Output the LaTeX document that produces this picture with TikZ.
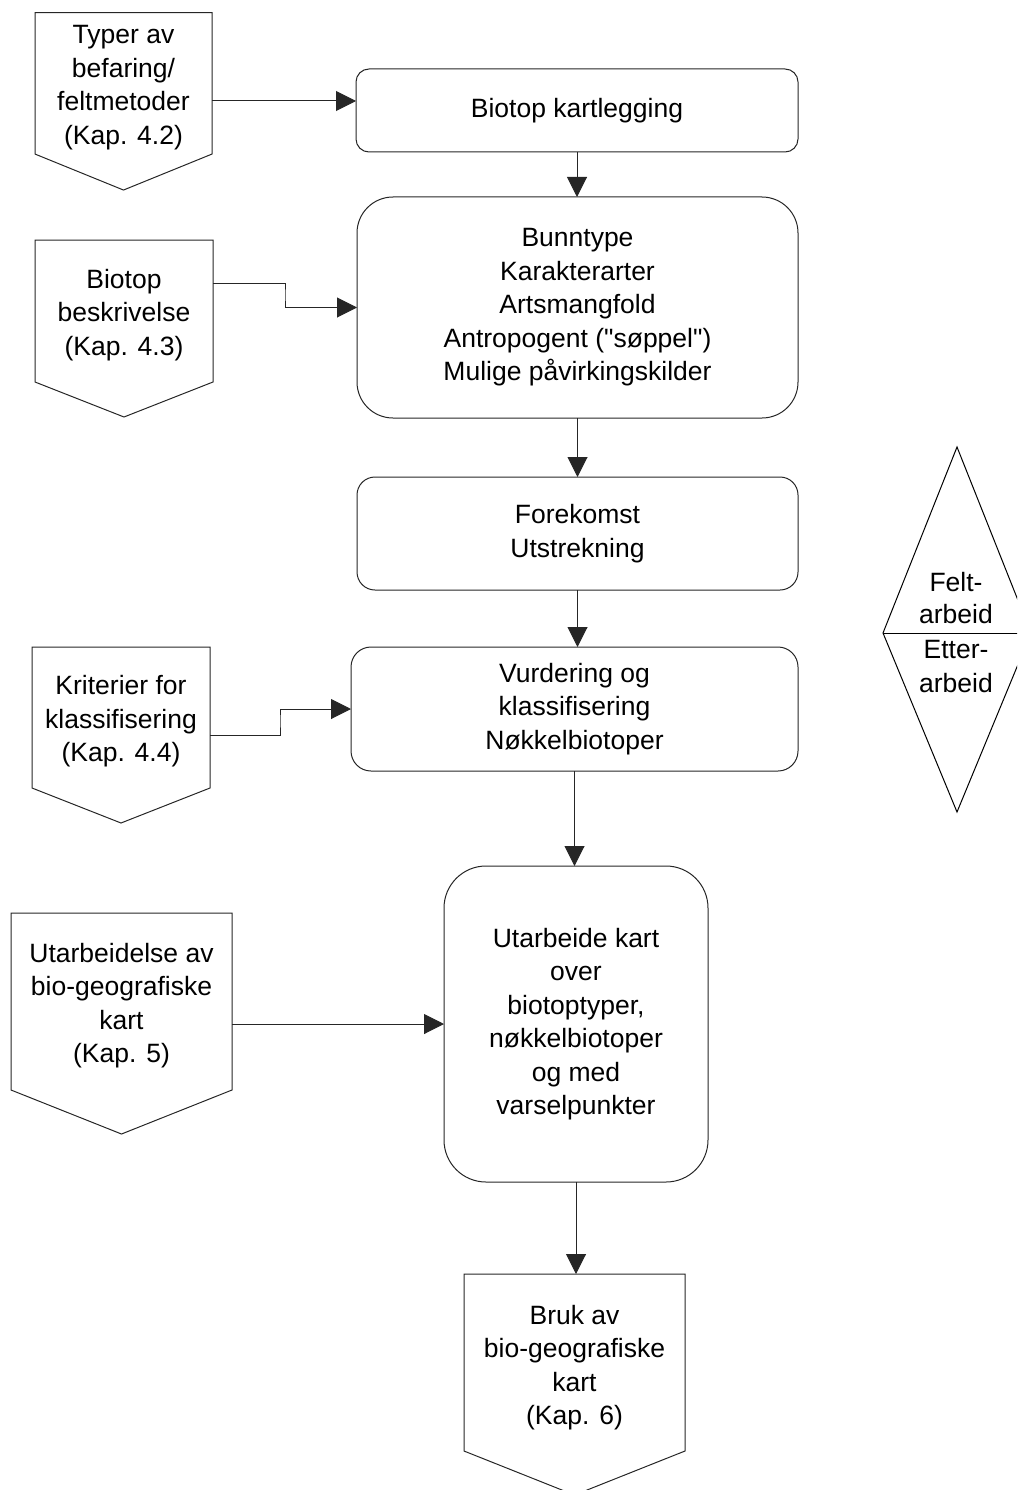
\documentclass[tikz,border=0pt]{standalone}
\usepackage{fontspec}
\setmainfont{Liberation Sans}[Ligatures=TeXReset]
\usetikzlibrary{arrows.meta,calc}
\begin{document}
\begin{tikzpicture}[x=1pt,y=-1pt,
  every node/.style={font=\fontsize{26.5}{33.5}\selectfont, align=center, inner sep=2pt, outer sep=0pt},
  rbox/.style={draw=black!85, line width=1pt, rectangle, rounded corners=#1},
  pbox/.style={rectangle},
  outl/.style={draw=black!85, line width=1pt},
  arr/.style={draw=black!85, line width=1pt, -{Triangle[length=20pt,width=20pt]}},
]
\useasboundingbox (0,0) rectangle (1017,1490);

% main boxes
\node[rbox=13pt, minimum width=442pt, minimum height=83pt] (b1) at (577,110.5) {Biotop kartlegging};
\node[rbox=36pt, minimum width=441pt, minimum height=221pt] (b2) at (577.5,307.5)
  {Bunntype\\Karakterarter\\Artsmangfold\\Antropogent ("søppel")\\Mulige påvirkingskilder};
\node[rbox=18pt, minimum width=441pt, minimum height=113pt] (b3) at (577.5,533.5) {Forekomst\\Utstrekning};
\node[rbox=20pt, minimum width=447pt, minimum height=124pt] (b4) at (574.5,709) {Vurdering og\\klassifisering\\Nøkkelbiotoper};
\node[rbox=42pt, minimum width=264pt, minimum height=316pt] (b5) at (576,1024)
  {Utarbeide kart\\over\\biotoptyper,\\nøkkelbiotoper\\og med\\varselpunkter};

% pentagon (off-page) frames
\node[pbox, minimum width=177pt, minimum height=141.3pt] (p1) at (123.5,83.4) {};
\node[pbox, minimum width=178pt, minimum height=142pt] (p2) at (124,311) {};
\node[pbox, minimum width=178pt, minimum height=141pt] (p3) at (121,717.5) {};
\node[pbox, minimum width=221pt, minimum height=177pt] (p4) at (121.5,1001.5) {};
\node[pbox, minimum width=221pt, minimum height=177pt] (p5) at (574.5,1362.5) {};

\foreach \p/\t in {p1/36, p2/35, p3/35, p4/44, p5/44} {
  \draw[outl] (\p.north west) -- (\p.north east) -- (\p.south east)
    -- ($(\p.south)+(0,\t)$) -- (\p.south west) -- cycle;
}

% pentagon texts
\node (t1) at ($(p1.center)+(0,4)$) {Typer av\\befaring/\\feltmetoder\\(Kap. 4.2)};
\node (t2) at ($(p2.center)+(0,4)$) {Biotop\\beskrivelse\\(Kap. 4.3)};
\node (t3) at ($(p3.center)+(0,4)$) {Kriterier for\\klassifisering\\(Kap. 4.4)};
\node (t4) at ($(p4.center)+(0,4)$) {Utarbeidelse av\\bio-geografiske\\kart\\(Kap. 5)};
\node (t5) at ($(p5.center)+(0,5)$) {Bruk av\\bio-geografiske\\kart\\(Kap. 6)};

% connectors
\coordinate (y1) at (0,101);
\coordinate (y2) at (0,283);
\coordinate (y3) at (0,735);
\draw[arr] (p1.east |- y1) -- (b1.west |- y1);
\draw[arr] (b1.south) -- (b1.south |- b2.north);
\draw[arr] (p2.east |- y2) -| (285,295) |- (b2.west);
\draw[arr] (b2.south) -- (b2.south |- b3.north);
\draw[arr] (b3.south) -- (b3.south |- b4.north);
\draw[arr] (p3.east |- y3) -| (280,720) |- (b4.west);
\draw[arr] (b4.south) -- (b4.south |- b5.north);
\draw[arr] (p4.east |- b5.west) -- (b5.west);
\draw[arr] (b5.south) -- (b5.south |- p5.north);

% phase diamond
\begin{scope}
  \clip (0,0) rectangle (1017,1490);
  \draw[outl, draw=black] (957,447) -- (1031,633) -- (957,812) -- (883,633) -- cycle;
  \draw[outl, draw=black] (883,633) -- (1031,633);
\end{scope}
\node[anchor=base] (f1) at (956,591) {Felt-};
\node[anchor=base] (f2) at (956,623) {arbeid};
\node[anchor=base] (e1) at (956,658) {Etter-};
\node[anchor=base] (e2) at (956,692) {arbeid};
\end{tikzpicture}
\end{document}
